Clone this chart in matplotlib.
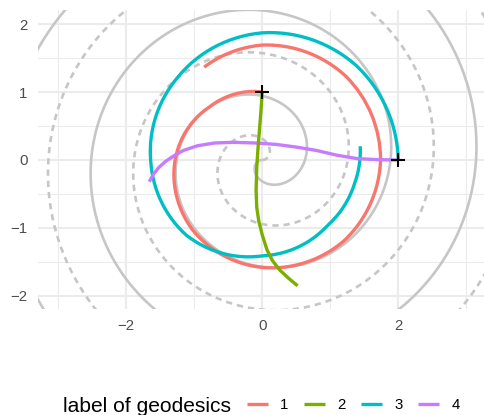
import numpy as np
import matplotlib
matplotlib.use("Agg")
import matplotlib.pyplot as plt
from matplotlib.path import Path
from matplotlib.patches import PathPatch
from matplotlib.lines import Line2D
from matplotlib.ticker import FixedLocator
from matplotlib.projections.polar import PolarTransform

# ---- data -------------------------------------------------------------
# gray reference spirals, polar (angle in degrees, radius); straight in (theta, r)
spiral_solid_theta = [-180, 1080]
spiral_solid_r = [0.0, 4.4]
spiral_dashed_theta = [0, 1260]
spiral_dashed_r = [0.0, 4.4]

geo_labels = ["1", "2", "3", "4"]
geo_colors = ["#F8766D", "#7CAE00", "#00BFC4", "#C77CFF"]

# geodesic 1 (polar samples)
geo1_theta = [90, 135, 180, 225, 270, 315, 360, 405, 450, 482]
geo1_r = [1.00, 1.10, 1.28, 1.45, 1.58, 1.69, 1.74, 1.74, 1.69, 1.61]
# geodesic 2 (cartesian samples)
geo2_x = [0.00, -0.02, -0.04, -0.06, -0.08, -0.09, -0.08, -0.05, 0.00, 0.07, 0.15, 0.26, 0.40, 0.52]
geo2_y = [1.00, 0.70, 0.45, 0.20, -0.10, -0.45, -0.70, -0.90, -1.10, -1.32, -1.48, -1.62, -1.75, -1.85]
# geodesic 3 (polar samples)
geo3_theta = [0, 45, 90, 135, 180, 225, 270, 315, 345, 368]
geo3_r = [2.00, 1.96, 1.87, 1.74, 1.64, 1.57, 1.41, 1.36, 1.40, 1.455]
# geodesic 4 (cartesian samples)
geo4_x = [1.98, 1.70, 1.40, 1.10, 0.80, 0.50, 0.20, -0.10, -0.42, -0.70, -0.95, -1.16, -1.30, -1.42, -1.52, -1.60, -1.66]
geo4_y = [0.00, 0.005, 0.02, 0.07, 0.14, 0.19, 0.23, 0.25, 0.26, 0.25, 0.21, 0.14, 0.06, -0.02, -0.11, -0.21, -0.32]

start_x = [0, 2]
start_y = [1, 0]

x_major = [-2, 0, 2]
x_minor = [-3, -1, 1, 3]
y_major = [-2, -1, 0, 1, 2]
y_minor = [-1.5, -0.5, 0.5, 1.5]

# ---- style ------------------------------------------------------------
plt.rcParams["font.family"] = ["Liberation Sans", "DejaVu Sans"]
plt.rcParams["lines.scale_dashes"] = False

W, H = 484, 415
fig = plt.figure(figsize=(W / 100, H / 100), dpi=100)
L, R, T, B = 37.7, 484.0, 10.0, 308.5
ax = fig.add_axes([L / W, 1 - B / H, (R - L) / W, (B - T) / H])
for s in ax.spines.values():
    s.set_visible(False)

polar = PolarTransform(apply_theta_transforms=False) + ax.transData


def polar_curve(theta_deg, r, steps, **kw):
    verts = np.column_stack([np.deg2rad(theta_deg), r])
    path = Path(verts, _interpolation_steps=steps)
    p = PathPatch(path, transform=polar, fill=False, **kw)
    ax.add_patch(p)
    return p


gray = "#C6C6C6"
polar_curve(spiral_solid_theta, spiral_solid_r, 1200, edgecolor=gray, lw=1.9,
            capstyle="butt", joinstyle="round", zorder=2)
polar_curve(spiral_dashed_theta, spiral_dashed_r, 1200, edgecolor=gray, lw=1.9,
            linestyle=(0, (4.5, 3.6)), capstyle="butt", joinstyle="round", zorder=2)

glw = 2.4
polar_curve(geo1_theta, geo1_r, 30, edgecolor=geo_colors[0], lw=glw,
            capstyle="butt", joinstyle="round", zorder=3)
polar_curve(geo3_theta, geo3_r, 30, edgecolor=geo_colors[2], lw=glw,
            capstyle="butt", joinstyle="round", zorder=3.2)
ax.plot(geo4_x, geo4_y, color=geo_colors[3], lw=glw, solid_capstyle="butt",
        solid_joinstyle="round", zorder=3.3)
ax.plot(geo2_x, geo2_y, color=geo_colors[1], lw=glw, solid_capstyle="butt",
        solid_joinstyle="round", zorder=3.4)

ax.plot(start_x, start_y, linestyle="none", marker="+", ms=9.5, mew=1.5,
        color="black", zorder=4)

ax.set_xlim(-3.30, 3.26)
ax.set_ylim(-2.184, 2.206)
ax.xaxis.set_major_locator(FixedLocator(x_major))
ax.xaxis.set_minor_locator(FixedLocator(x_minor))
ax.yaxis.set_major_locator(FixedLocator(y_major))
ax.yaxis.set_minor_locator(FixedLocator(y_minor))
ax.grid(which="major", color="#EBEBEB", lw=1.45, zorder=0)
ax.grid(which="minor", color="#EBEBEB", lw=0.75, zorder=0)
ax.set_axisbelow(True)
ax.tick_params(which="both", length=0)
ax.tick_params(axis="x", pad=7.2, labelsize=10.8, labelcolor="#4D4D4D")
ax.tick_params(axis="y", pad=7.3, labelsize=10.8, labelcolor="#4D4D4D")

# legend
handles = [Line2D([], [], color=c, lw=glw, solid_capstyle="butt") for c in geo_colors]
fig.legend(handles, geo_labels, loc="center left", bbox_to_anchor=(247 / W, 1 - 405 / H),
           ncol=4, frameon=False, fontsize=10.8, handlelength=1.4, handletextpad=0.8,
           columnspacing=1.05, borderpad=0, borderaxespad=0)
fig.text(63 / W, 1 - 412.3 / H, "label of geodesics", fontsize=15.1, ha="left",
         va="baseline", color="black")

fig.savefig("out.png", dpi=100)
